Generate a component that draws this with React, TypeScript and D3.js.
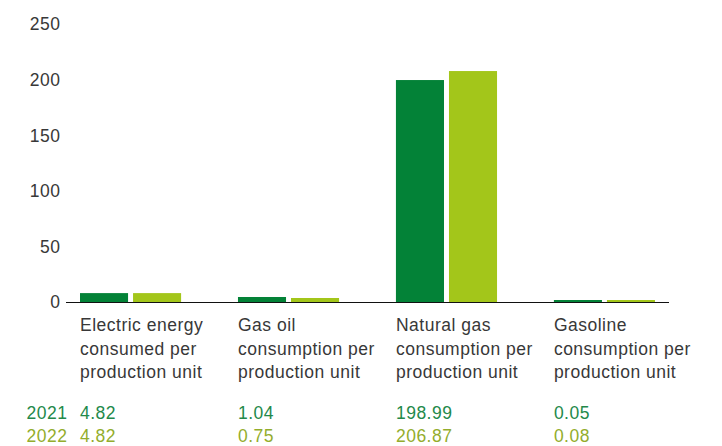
import React from "react";
import * as d3 from "d3";

const categories = [
  ["Electric energy", "consumed per", "production unit"],
  ["Gas oil", "consumption per", "production unit"],
  ["Natural gas", "consumption per", "production unit"],
  ["Gasoline", "consumption per", "production unit"],
];
const years = ["2021", "2022"];
// Bar heights as drawn in the picture
const bars2021 = [8, 4.5, 199.6, 1.8];
const bars2022 = [8, 3.6, 207.7, 1.8];
// Values printed in the table
const labels2021 = ["4.82", "1.04", "198.99", "0.05"];
const labels2022 = ["4.82", "0.75", "206.87", "0.08"];
const yTicks = [0, 50, 100, 150, 200, 250];

const W = 722;
const H = 446;
const colors = ["#038237", "#a3c61a"];
const textColors = ["#23894a", "#93ad2c"];
const FONT = "'Liberation Sans', Arial, Helvetica, sans-serif";
const FS = 17.5;
const LS = 0.5;

export default function App() {
  const keys = categories.map((c) => c.join(" "));
  const x = d3.scaleBand<string>().domain(keys).range([80, 655]).paddingInner(0.36).paddingOuter(0);
  const xi = d3.scaleBand<string>().domain(years).range([0, x.bandwidth()]).paddingInner(0.094);
  const y = d3.scaleLinear().domain([0, 250]).range([302, 24]);
  const series = [bars2021, bars2022];
  const tableRows = [labels2021, labels2022];

  return (
    <svg width={W} height={H} style={{ position: "absolute", left: 0, top: 0, background: "#fff" }} fontFamily={FONT} letterSpacing={LS}>
      {yTicks.map((t) => (
        <text key={t} x={60.5} y={y(t)} dy="0.36em" textAnchor="end" fontSize={FS} fill="#383838">
          {t}
        </text>
      ))}
      {keys.map((k, i) =>
        years.map((yr, j) => {
          const v = series[j][i];
          return (
            <rect
              key={k + yr}
              x={(x(k) as number) + (xi(yr) as number)}
              y={y(v)}
              width={xi.bandwidth()}
              height={y(0) - y(v)}
              fill={colors[j]}
            />
          );
        })
      )}
      <line x1={66} x2={669} y1={y(0) + 0.5} y2={y(0) + 0.5} stroke="#111" strokeWidth={1} />
      {keys.map((k, i) => (
        <text key={"c" + k} x={x(k)} y={331} fontSize={FS} fill="#383838">
          {categories[i].map((line, li) => (
            <tspan key={li} x={x(k)} y={331 + li * 23.5}>
              {line}
            </tspan>
          ))}
        </text>
      ))}
      {years.map((yr, j) => (
        <g key={"row" + yr}>
          <text x={67.5} y={419 + j * 23} textAnchor="end" fontSize={FS} fill={textColors[j]}>
            {yr}
          </text>
          {keys.map((k, i) => (
            <text key={k} x={x(k)} y={419 + j * 23} fontSize={FS} fill={textColors[j]}>
              {tableRows[j][i]}
            </text>
          ))}
        </g>
      ))}
    </svg>
  );
}
